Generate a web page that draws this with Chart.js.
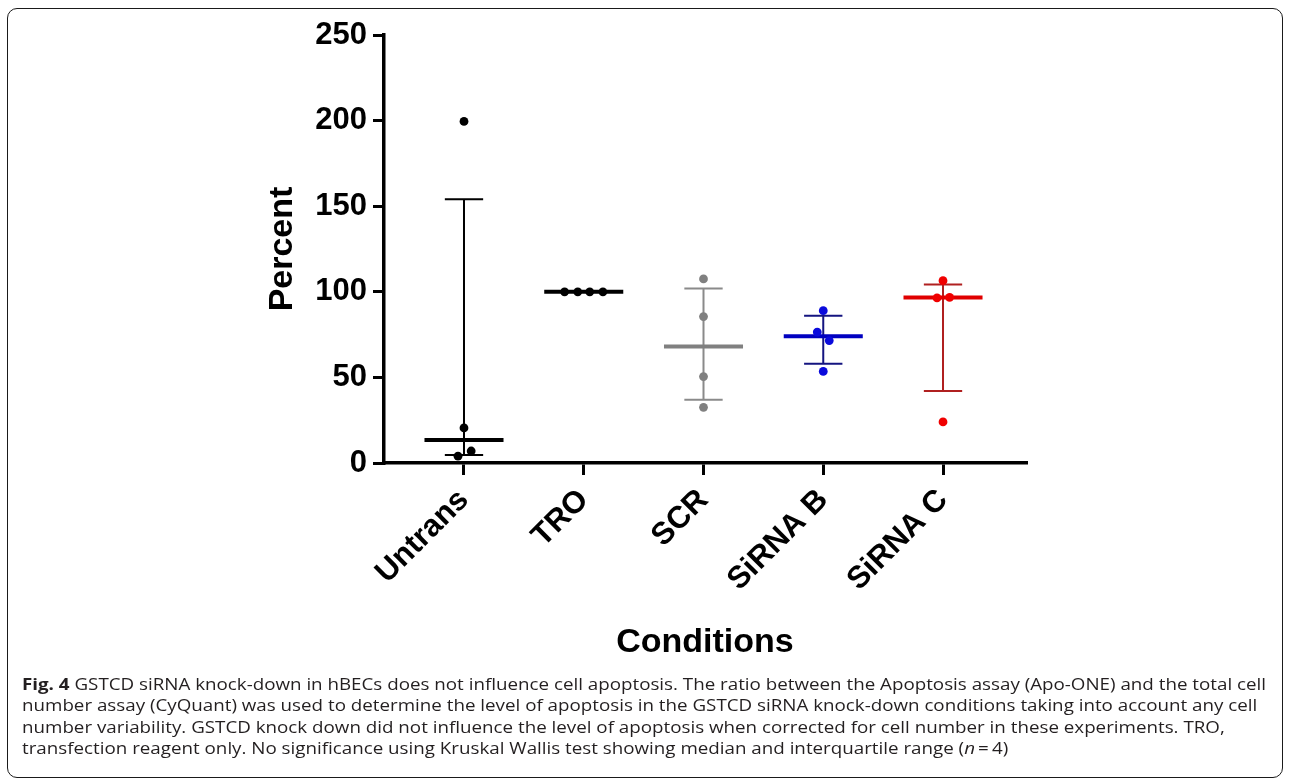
<!DOCTYPE html>
<html>
<head>
<meta charset="utf-8">
<script src="https://cdn.jsdelivr.net/npm/chart.js@4.4.1/dist/chart.umd.min.js"></script>
<style>
  html, body { margin: 0; padding: 0; background: #fff; }
  #wrap { position: relative; width: 1290px; height: 782px; overflow: hidden; }
  #frame {
    position: absolute; left: 7px; top: 8px; width: 1276px; height: 770px;
    border: 1.4px solid #1a1a1a; border-radius: 10px; box-sizing: border-box;
  }
  #myChart { position: absolute; left: 0; top: 0; }
  #caption {
    position: absolute; left: 22px; top: 674px;
    font-family: "Open Sans", "Noto Sans", sans-serif; font-size: 16px;
    line-height: 21.3px; color: #231f20;
  }
  #caption div { white-space: nowrap; transform-origin: 0 0; width: max-content; }
</style>
</head>
<body>
<div id="wrap">
  <div id="frame"></div>
  <canvas id="myChart" width="1290" height="782"></canvas>
  <div id="caption">
    <div><b>Fig. 4</b> GSTCD siRNA knock-down in hBECs does not influence cell apoptosis. The ratio between the Apoptosis assay (Apo-ONE) and the total cell</div>
    <div>number assay (CyQuant) was used to determine the level of apoptosis in the GSTCD siRNA knock-down conditions taking into account any cell</div>
    <div>number variability. GSTCD knock down did not influence the level of apoptosis when corrected for cell number in these experiments. TRO,</div>
    <div>transfection reagent only. No significance using Kruskal Wallis test showing median and interquartile range (<i>n</i>&#8201;=&#8201;4)</div>
  </div>
</div>
<script>
const categories = ['Untrans', 'TRO', 'SCR', 'SiRNA B', 'SiRNA C']
const yTicks = [0, 50, 100, 150, 200, 250]

// individual points per condition
const untransValues = [4, 7, 20.5, 199.5]
const troValues = [100, 100, 100, 100]
const scrValues = [32.5, 50.5, 85.5, 107.5]
const sirnaBValues = [53.5, 71.5, 76.5, 89]
const sirnaCValues = [24, 96.4, 96.8, 106.5]

// sideways scatter of the dots (fraction of one category)
const untransSpread = [-0.05, 0.06, 0, 0]
const troSpread = [-0.16, -0.05, 0.05, 0.16]
const scrSpread = [0, 0, 0, 0]
const sirnaBSpread = [0, 0.05, -0.05, 0]
const sirnaCSpread = [0, -0.05, 0.055, 0]

// median and interquartile range as drawn
const medians = [13.5, 100, 68, 74, 96.6]
const q1 = [4.7, 100, 37, 58, 42]
const q3 = [154, 100, 102, 86, 104.2]

const dotColors = ['#000000', '#000000', '#808080', '#0a0adc', '#f00000']
const medianColors = ['#000000', '#000000', '#808080', '#0000c0', '#e00000']
const whiskerColors = ['#000000', '#000000', '#8a8a8a', '#141480', '#b02020']

const groups = [untransValues, troValues, scrValues, sirnaBValues, sirnaCValues]
const spreads = [untransSpread, troSpread, scrSpread, sirnaBSpread, sirnaCSpread]
const FONT = '"Liberation Sans", Arial, sans-serif'

let datasets = []

groups.map((vals, i) => {
    datasets.push({
        type: 'scatter',
        data: vals.map((v, j) => ({ x: i + spreads[i][j], y: v })),
        backgroundColor: dotColors[i],
        borderColor: dotColors[i],
        borderWidth: 0,
        pointRadius: 4.4,
    })
})

medians.map((m, i) => {
    datasets.push({
        type: 'line',
        data: [{ x: i - 0.33, y: m }, { x: i + 0.33, y: m }],
        borderColor: medianColors[i],
        borderWidth: 4,
        pointRadius: 0,
        showLine: true,
        fill: false,
    })
})

categories.map((c, i) => {
    datasets.push({
        type: 'line',
        data: [
            { x: i - 0.16, y: q3[i] }, { x: i + 0.16, y: q3[i] }, { x: i, y: null },
            { x: i, y: q3[i] }, { x: i, y: q1[i] }, { x: i, y: null },
            { x: i - 0.16, y: q1[i] }, { x: i + 0.16, y: q1[i] },
        ],
        borderColor: whiskerColors[i],
        borderWidth: 2,
        pointRadius: 0,
        showLine: true,
        spanGaps: false,
        fill: false,
    })
})

const ctx = document.getElementById('myChart').getContext('2d')

const config = {
    type: 'scatter',
    data: { datasets: datasets },
    options: {
        responsive: false,
        animation: false,
        devicePixelRatio: 1,
        layout: { padding: { left: 266, top: 35, right: 264, bottom: 122 } },
        plugins: {
            legend: { display: false },
            tooltip: { enabled: false },
        },
        scales: {
            x: {
                type: 'linear',
                min: -0.668,
                max: 4.693,
                afterBuildTicks: (scale) => { scale.ticks = categories.map((c, i) => ({ value: i })) },
                afterFit: (scale) => { scale.height = 197 },
                ticks: {
                    callback: (v) => categories[v],
                    autoSkip: false,
                    minRotation: 45,
                    maxRotation: 45,
                    color: '#000',
                    padding: 7,
                    font: { family: FONT, size: 31, weight: 'bold' },
                },
                grid: { drawOnChartArea: false, drawTicks: true, tickLength: 12, color: '#000', lineWidth: 3 },
                border: { display: true, color: '#000', width: 3.5 },
                title: {
                    display: true,
                    text: 'Conditions',
                    color: '#000',
                    padding: 0,
                    font: { family: FONT, size: 34, weight: 'bold', lineHeight: 1 },
                },
            },
            y: {
                min: 0,
                max: 250,
                afterBuildTicks: (scale) => { scale.ticks = yTicks.map((v) => ({ value: v })) },
                afterFit: (scale) => { scale.width = 118 },
                ticks: {
                    color: '#000',
                    padding: 6,
                    font: { family: FONT, size: 31, weight: 'bold' },
                },
                grid: { drawOnChartArea: false, drawTicks: true, tickLength: 11, color: '#000', lineWidth: 3 },
                border: { display: true, color: '#000', width: 3.5 },
                title: {
                    display: true,
                    text: 'Percent',
                    color: '#000',
                    padding: 0,
                    font: { family: FONT, size: 34, weight: 'bold', lineHeight: 1 },
                },
            },
        },
    },
}

const myChart = new Chart(ctx, config)

// one horizontal squeeze for all caption lines, set by the first (full) line
const lines = document.querySelectorAll('#caption div')
const squeeze = 1244 / lines[0].getBoundingClientRect().width
lines.forEach((line) => {
    line.style.transform = 'scaleX(' + squeeze + ')'
})
</script>
</body>
</html>
